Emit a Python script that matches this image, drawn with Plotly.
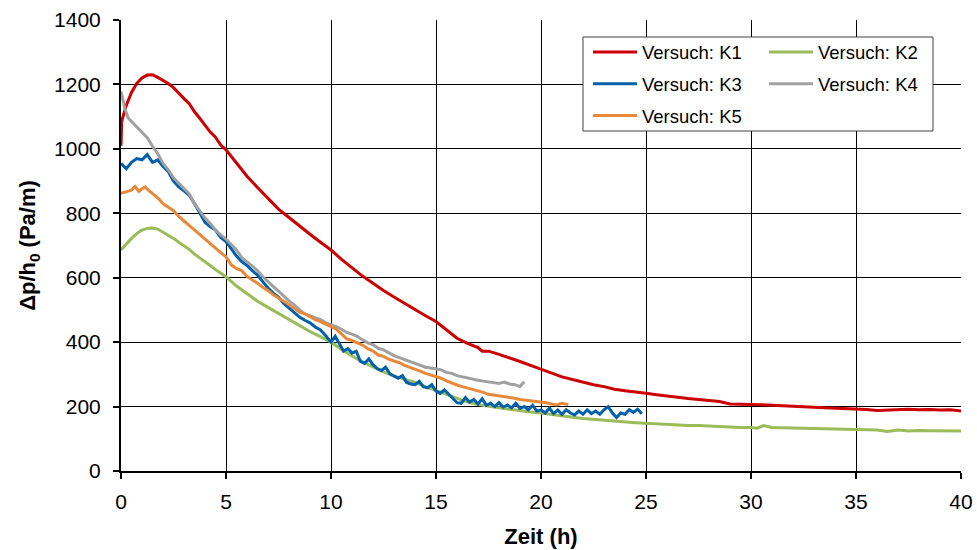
import plotly.graph_objects as go

# ---------------- data ----------------
k1_t = [0, 0.03, 0.25, 0.5, 0.75, 1.0, 1.25, 1.5, 1.75, 2.0, 2.25, 2.5, 2.75, 3.0, 3.25, 3.5, 3.75,
        4.0, 4.25, 4.5, 4.75, 5.0, 5.5, 6.0, 6.5, 7.0, 7.5, 8.0, 8.5, 9.0, 9.5, 10.0, 10.5, 11.0,
        11.5, 12.0, 12.5, 13.0, 13.5, 14.0, 14.5, 15.0, 15.5, 16.0, 16.5, 17.0, 17.2, 17.5, 18.0,
        18.5, 19.0, 19.5, 20.0, 20.5, 21.0, 21.5, 22.0, 22.5, 23.0, 23.5, 24.0, 24.5, 25.0, 25.5,
        26.0, 26.5, 27.0, 27.5, 28.0, 28.5, 29.0, 29.5, 30.0, 30.5, 31.0, 31.5, 32.0, 32.5, 33.0,
        33.5, 34.0, 34.5, 35.0, 35.5, 36.0, 36.5, 37.0, 37.5, 38.0, 38.5, 39.0, 39.5, 40.0]
k1_v = [1010, 1085, 1135, 1175, 1203, 1220, 1229, 1230, 1222, 1213, 1203, 1190, 1172, 1156, 1140,
        1115, 1095, 1075, 1052, 1036, 1012, 997, 957, 915, 880, 846, 813, 787, 760, 735, 710, 686,
        657, 632, 605, 583, 560, 540, 520, 500, 482, 464, 437, 412, 396, 383, 372, 372, 362, 352,
        340, 328, 316, 303, 292, 284, 275, 268, 262, 254, 249, 244, 241, 237, 232, 229, 225, 222,
        219, 216, 208, 208, 207, 206, 204, 203, 201, 200, 198, 196, 195, 194, 193, 191, 188, 190,
        192, 192, 190, 191, 189, 190, 186]

k2_t = [0, 0.25, 0.5, 0.75, 1.0, 1.25, 1.5, 1.75, 2.0, 2.25, 2.5, 2.75, 3.0, 3.25, 3.5, 3.75, 4.0,
        4.25, 4.5, 4.75, 5.0, 5.5, 6.0, 6.5, 7.0, 7.5, 8.0, 8.5, 9.0, 9.5, 10.0, 10.5, 11.0, 11.5,
        12.0, 12.5, 13.0, 13.5, 14.0, 14.5, 15.0, 15.5, 16.0, 16.5, 17.0, 17.5, 18.0, 18.5, 19.0,
        19.5, 20.0, 20.5, 21.0, 21.5, 22.0, 22.5, 23.0, 23.5, 24.0, 24.5, 25.0, 25.5, 26.0, 26.5,
        27.0, 27.5, 28.0, 28.5, 29.0, 29.5, 30.0, 30.3, 30.6, 31.0, 31.5, 32.0, 32.5, 33.0, 33.5,
        34.0, 34.5, 35.0, 35.5, 36.0, 36.5, 37.0, 37.5, 38.0, 38.5, 39.0, 39.5, 40.0]
k2_v = [686, 705, 722, 737, 748, 753, 754, 751, 742, 733, 722, 710, 698, 688, 673, 662, 650, 638,
        625, 614, 603, 574, 550, 527, 508, 489, 470, 450, 433, 417, 400, 378, 357, 339, 323, 308,
        295, 285, 275, 262, 250, 238, 226, 214, 206, 200, 196, 192, 187, 183, 180, 175, 171, 167,
        163, 160, 157, 154, 151, 150, 148, 146, 145, 143, 141, 141, 139, 138, 137, 135, 135, 133,
        141, 135, 134, 133, 132, 131, 131, 129, 130, 128, 128, 127, 123, 127, 124, 126, 125, 124,
        125, 124]

k3_t = [0, 0.25, 0.5, 0.75, 1.0, 1.25, 1.5, 1.75, 2.0, 2.25, 2.5, 2.75, 3.0, 3.25, 3.5, 3.75, 4.0,
        4.25, 4.5, 4.75, 5.0, 5.25, 5.5, 5.75, 6.0, 6.25, 6.5, 6.75, 7.0, 7.25, 7.5, 7.75, 8.0,
        8.25, 8.5, 8.75, 9.0, 9.25, 9.5, 9.75, 10.0, 10.2, 10.4, 10.6, 10.8, 11.0, 11.2, 11.4, 11.6,
        11.8, 12.0, 12.2, 12.4, 12.6, 12.8, 13.0, 13.2, 13.4, 13.6, 13.8, 14.0, 14.2, 14.4, 14.6,
        14.8, 15.0, 15.2, 15.4, 15.6, 15.8, 16.0, 16.2, 16.4, 16.6, 16.8, 17.0, 17.2, 17.4, 17.6,
        17.8, 18.0, 18.2, 18.4, 18.6, 18.8, 19.0, 19.2, 19.4, 19.6, 19.8, 20.0, 20.2, 20.4, 20.6,
        20.8, 21.0, 21.2, 21.4, 21.6, 21.8, 22.0, 22.2, 22.4, 22.6, 22.8, 23.0, 23.2, 23.4, 23.6,
        23.8, 24.0, 24.2, 24.4, 24.6, 24.8]
k3_v = [955, 938, 958, 970, 966, 982, 958, 966, 945, 930, 900, 882, 870, 856, 830, 800, 772, 758,
        748, 725, 712, 690, 667, 650, 638, 622, 608, 588, 568, 552, 540, 520, 506, 493, 478, 468,
        460, 447, 438, 420, 400, 418, 395, 372, 380, 366, 372, 340, 334, 348, 330, 318, 312, 322,
        302, 295, 288, 296, 275, 270, 268, 278, 262, 258, 268, 248, 241, 252, 238, 225, 212, 210,
        228, 214, 222, 208, 224, 204, 210, 200, 212, 198, 205, 196, 210, 194, 200, 190, 204, 186,
        190, 180, 195, 178, 189, 176, 190, 180, 174, 186, 176, 190, 178, 186, 176, 190, 200, 180,
        166, 180, 176, 190, 182, 192, 178]

k4_t = [0, 0.1, 0.2, 0.35, 0.5, 0.67, 1.0, 1.25, 1.5, 1.75, 2.0, 2.25, 2.5, 2.75, 3.0, 3.25, 3.5,
        3.75, 4.0, 4.25, 4.5, 4.75, 5.0, 5.25, 5.5, 5.75, 6.0, 6.25, 6.5, 6.75, 7.0, 7.25, 7.5,
        7.75, 8.0, 8.25, 8.5, 8.75, 9.0, 9.25, 9.5, 9.75, 10.0, 10.25, 10.5, 10.75, 11.0, 11.25,
        11.5, 11.75, 12.0, 12.25, 12.5, 12.75, 13.0, 13.25, 13.5, 13.75, 14.0, 14.25, 14.5, 14.75,
        15.0, 15.25, 15.5, 15.75, 16.0, 16.25, 16.5, 16.75, 17.0, 17.25, 17.5, 17.75, 18.0, 18.25,
        18.5, 18.75, 19.0, 19.2]
k4_v = [1178, 1150, 1121, 1095, 1085, 1074, 1053, 1035, 1008, 985, 955, 935, 910, 893, 878, 860,
        830, 806, 785, 768, 748, 733, 720, 703, 686, 662, 650, 636, 622, 603, 588, 573, 558, 540,
        528, 516, 500, 488, 482, 474, 470, 460, 455, 448, 440, 430, 425, 418, 407, 398, 392, 381,
        376, 366, 358, 352, 346, 338, 332, 328, 322, 320, 316, 314, 306, 303, 296, 292, 288, 284,
        282, 279, 277, 275, 272, 276, 270, 268, 262, 277]

k5_t = [0, 0.25, 0.5, 0.67, 0.85, 1.0, 1.15, 1.3, 1.5, 1.75, 2.0, 2.25, 2.5, 2.75, 3.0, 3.25, 3.5,
        3.75, 4.0, 4.25, 4.5, 4.75, 5.0, 5.25, 5.5, 5.75, 6.0, 6.25, 6.5, 6.75, 7.0, 7.25, 7.5,
        7.75, 8.0, 8.25, 8.5, 8.75, 9.0, 9.25, 9.5, 9.75, 10.0, 10.25, 10.5, 10.75, 11.0, 11.25,
        11.5, 11.75, 12.0, 12.25, 12.5, 12.75, 13.0, 13.25, 13.5, 13.75, 14.0, 14.25, 14.5, 14.75,
        15.0, 15.25, 15.5, 15.75, 16.0, 16.25, 16.5, 16.75, 17.0, 17.25, 17.5, 17.75, 18.0, 18.25,
        18.5, 18.75, 19.0, 19.25, 19.5, 19.75, 20.0, 20.25, 20.5, 20.75, 21.0, 21.3]
k5_v = [862, 866, 872, 883, 868, 876, 882, 872, 862, 848, 830, 820, 808, 790, 776, 762, 745, 734,
        718, 703, 690, 678, 665, 640, 628, 622, 604, 594, 583, 570, 560, 547, 538, 527, 516, 505,
        493, 488, 478, 470, 464, 455, 448, 440, 425, 410, 405, 398, 391, 380, 372, 360, 356, 347,
        342, 336, 328, 322, 318, 310, 303, 298, 292, 288, 280, 273, 267, 262, 258, 252, 250, 244,
        238, 236, 233, 232, 230, 226, 222, 220, 220, 216, 215, 212, 208, 205, 210, 206]

names = ["Versuch: K1", "Versuch: K2", "Versuch: K3", "Versuch: K4", "Versuch: K5"]
colors = ["#CC0000", "#9BBB59", "#0060AC", "#A0A0A0", "#E8893A"]
legend_ids = ["legend", "legend", "legend2", "legend2", "legend3"]

x_ticks = [0, 5, 10, 15, 20, 25, 30, 35, 40]
y_ticks = [0, 200, 400, 600, 800, 1000, 1200, 1400]

# ---------------- figure ----------------
FONT = "Liberation Sans, Arial, sans-serif"
series = [(k1_t, k1_v), (k2_t, k2_v), (k3_t, k3_v), (k4_t, k4_v), (k5_t, k5_v)]

fig = go.Figure()
for (t, v), n, c, lg in zip(series, names, colors, legend_ids):
    fig.add_trace(go.Scatter(x=t, y=v, mode="lines", name=n, legend=lg,
                             line=dict(color=c, width=3)))

W, H = 977, 550
ml, mr, mt, mb = 121, 16, 20, 79
pw, ph = W - ml - mr, H - mt - mb

def px2paper_x(px):
    return (px - ml) / pw

def px2paper_y(py):
    return (H - mb - py) / ph

leg_common = dict(orientation="h", xanchor="left", yanchor="middle",
                  bgcolor="rgba(0,0,0,0)", borderwidth=0,
                  font=dict(family=FONT, size=18.5, color="black"),
                  entrywidth=117, entrywidthmode="pixels", itemwidth=44)

fig.update_layout(
    width=W, height=H,
    margin=dict(l=ml, r=mr, t=mt, b=mb, autoexpand=False),
    paper_bgcolor="white", plot_bgcolor="white",
    font=dict(family=FONT, size=21, color="black"),
    showlegend=True,
    legend=dict(x=px2paper_x(588), y=px2paper_y(52.5), **leg_common),
    legend2=dict(x=px2paper_x(588), y=px2paper_y(84.3), **leg_common),
    legend3=dict(x=px2paper_x(588), y=px2paper_y(116), **leg_common),
    shapes=[dict(type="rect", xref="paper", yref="paper",
                 x0=px2paper_x(583), x1=px2paper_x(933),
                 y0=px2paper_y(131), y1=px2paper_y(37),
                 fillcolor="white", line=dict(color="#404040", width=1), layer="above")],
)

fig.update_xaxes(
    range=[0, 40], tickvals=x_ticks, ticktext=[str(v) for v in x_ticks],
    showgrid=True, gridcolor="#000000", gridwidth=1, zeroline=False,
    showline=True, linecolor="black", linewidth=2, mirror=False,
    ticks="outside", ticklen=6, tickwidth=2, tickcolor="black",
    ticklabelstandoff=5,
    tickfont=dict(family=FONT, size=21, color="black"),
    title=dict(text="<b>Zeit (h)</b>", font=dict(family=FONT, size=22, color="black"), standoff=16),
    automargin=False,
)
fig.update_yaxes(
    range=[0, 1400], tickvals=y_ticks, ticktext=[str(v) for v in y_ticks],
    showgrid=True, gridcolor="#000000", gridwidth=1, zeroline=False,
    showline=True, linecolor="black", linewidth=2, mirror=False,
    ticks="outside", ticklen=6, tickwidth=2, tickcolor="black",
    ticklabelstandoff=8,
    tickfont=dict(family=FONT, size=21, color="black"),
    title=dict(text="<b>Δp/h<sub>0</sub> (Pa/m)</b>", font=dict(family=FONT, size=22, color="black"), standoff=12),
    automargin=False,
)

fig.write_html("out.html", config={"displayModeBar": False},
               post_script="document.body.style.margin='0';")
